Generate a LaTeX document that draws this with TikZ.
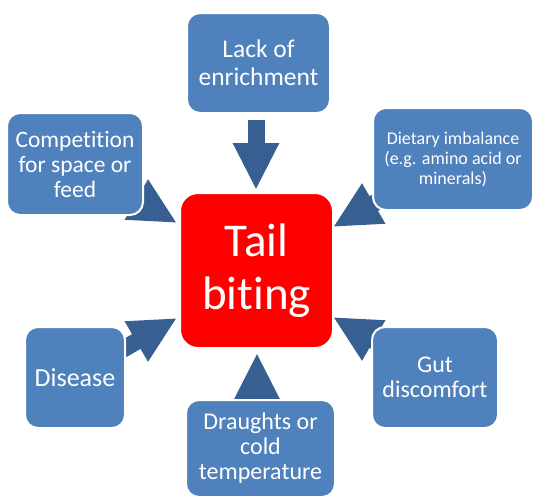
\documentclass[tikz,border=0pt]{standalone}
\usepackage{fontspec}
\setmainfont{Carlito}[Ligatures=NoCommon]
\usetikzlibrary{arrows.meta}
\definecolor{boxblue}{HTML}{4F81BD}
\definecolor{arrowblue}{HTML}{385F92}
\definecolor{tailred}{HTML}{FF0000}
\begin{document}
\begin{tikzpicture}[x=1pt,y=-1pt,
  cause/.style={draw=white, line width=2pt, fill=boxblue, rounded corners=13pt,
    text=white, align=center, inner sep=0pt},
  centrebox/.style={draw=white, line width=2pt, fill=tailred, rounded corners=18pt,
    text=white, align=center, inner sep=0pt},
  blockarrow/.style={draw=arrowblue, line width=17pt,
    -{Triangle[width=43pt,length=47pt]}}]
\useasboundingbox (0,0) rectangle (534,499);
\fill[white] (0,0) rectangle (534,499);

% arrow end points
\coordinate (s1) at (256,120);   \coordinate (t1) at (256,190);
\coordinate (s2) at (116.4,188); \coordinate (t2) at (177,223);
\coordinate (s3) at (393.6,192); \coordinate (t3) at (333,227);
\coordinate (s4) at (116.4,353); \coordinate (t4) at (177,318);
\coordinate (s5) at (393.6,352); \coordinate (t5) at (333,317);
\coordinate (s6) at (257,423);   \coordinate (t6) at (257,353);

\foreach \i in {1,...,6} {\draw[blockarrow] (s\i) -- (t\i);}

\node[centrebox, minimum width=153pt, minimum height=155pt,
  font=\fontsize{47}{53}\selectfont] (tail) at (256.5,270.5) {Tail\\biting};

\node[cause, minimum width=143pt, minimum height=100pt,
  font=\fontsize{25.5}{28}\selectfont] (lack) at (258.5,63) {Lack of\\enrichment};
\node[cause, minimum width=136pt, minimum height=102pt,
  font=\fontsize{23.5}{25}\selectfont] (comp) at (75,164) {Competition\\for space or\\feed};
\node[cause, minimum width=160pt, minimum height=102pt,
  font=\fontsize{18}{20}\selectfont] (diet) at (453,159) {Dietary imbalance\\(e.g. amino acid or\\minerals)};
\node[cause, minimum width=100pt, minimum height=101pt,
  font=\fontsize{26}{28}\selectfont] (dis) at (75,377.5) {Disease};
\node[cause, minimum width=126pt, minimum height=101pt,
  font=\fontsize{24}{25}\selectfont] (gut) at (435,377.5) {Gut\\discomfort};
\node[cause, minimum width=149pt, minimum height=97pt,
  font=\fontsize{24}{25}\selectfont] (draught) at (260.5,448.5) {Draughts or\\cold\\temperature};
\end{tikzpicture}
\end{document}
